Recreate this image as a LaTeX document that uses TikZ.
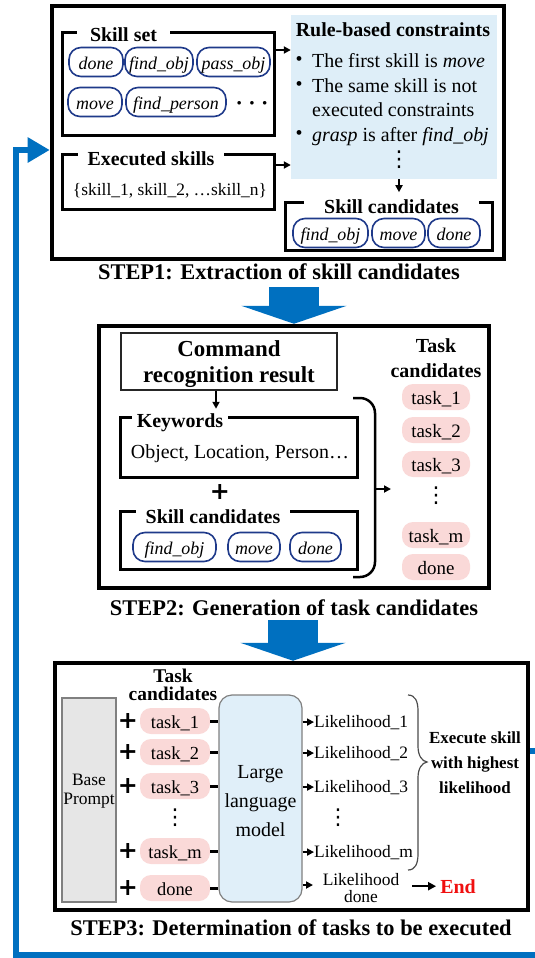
\documentclass[tikz,border=0pt]{standalone}
\usepackage{fontspec}
\setmainfont{Liberation Serif}
\newfontfamily\plusfont{DejaVu Sans}
\usetikzlibrary{arrows.meta}
\definecolor{stepblue}{HTML}{0070C0}
\definecolor{rulefill}{HTML}{DEEEF8}
\definecolor{pillblue}{HTML}{1F3A8A}
\definecolor{pinkfill}{HTML}{FAD9D8}
\definecolor{basefill}{HTML}{E6E6E6}
\definecolor{llmfill}{HTML}{E0EFF9}
\definecolor{endred}{HTML}{F01010}
\newcommand\fsz[2]{\fontsize{#1}{#2}\selectfont}
\begin{document}
\begin{tikzpicture}[x=1bp,y=-1bp,
  outer/.style={draw, line width=4.5bp, inner sep=0},
  brbox/.style={draw, line width=3bp, inner sep=0},
  btitle/.style={fill=white, inner xsep=10bp, inner ysep=0bp, text height=16bp, text depth=5bp, font=\bfseries\fsz{20}{22}},
  pill/.style={draw=pillblue, line width=1.6bp, rounded corners=12bp, inner sep=0, minimum height=29bp, text height=14bp, text depth=0bp, font=\itshape\fsz{18}{20}},
  tpill/.style={fill=pinkfill, rounded corners=11bp, inner sep=0, minimum height=26bp, text height=14.5bp, text depth=0bp},
  txt/.style={inner sep=0},
  arr/.style={-{Triangle[length=7bp,width=7bp]}, line width=1.8bp},
  captext/.style={inner sep=0, font=\bfseries\fsz{22.5}{25}},
  bigarrow/.style={draw=stepblue, line width=50bp, -{Triangle[length=18bp,width=105bp]}},
  loopline/.style={draw=stepblue, line width=6bp, line join=miter, -{Triangle[length=22bp,width=24bp]}},
  plusn/.style={inner sep=0, font=\plusfont\bfseries\fsz{24}{24}},
  dotsn/.style={inner sep=0, font=\plusfont\fsz{22}{22}},
  bulletn/.style={inner sep=0, font=\fsz{20}{20}}]
\fill[white] (0,0) rectangle (535,958);
\clip (0,0) rectangle (535,958);

% ================= STEP 1 =================
\node[outer, minimum width=452bp, minimum height=253bp] (step1) at (278,132.5) {};
\node[fill=rulefill, inner sep=0, minimum width=206bp, minimum height=164bp] (rule) at (394,97) {};
\node[txt, anchor=base, font=\bfseries\fsz{20}{22}] (ruleT) at (393,36) {Rule-based constraints};
\node[bulletn] (b1) at (299,61) {•};
\node[bulletn] (b2) at (299,86) {•};
\node[bulletn] (b3) at (299,135) {•};
\node[txt, anchor=base west, font=\fsz{20}{22}] (r1) at (312,67) {The first skill is \textit{move}};
\node[txt, anchor=base west, font=\fsz{20}{22}] (r2) at (312,92) {The same skill is not};
\node[txt, anchor=base west, font=\fsz{20}{22}] (r3) at (312,116) {executed constraints};
\node[txt, anchor=base west, font=\fsz{20}{22}] (r4) at (312,141) {\textit{grasp} is after \textit{find\_obj}};
\node[dotsn] (rdots) at (399,160) {⋮};

\node[brbox, minimum width=211bp, minimum height=103bp] (skillset) at (168.5,83.5) {};
\node[btitle, anchor=base, inner xsep=13bp] (skillsetT) at (123.5,41) {Skill set};
\node[pill, minimum width=54bp] (k1) at (96,62) {done};
\node[pill, minimum width=68bp] (k2) at (159,62) {find\_obj};
\node[pill, minimum width=73bp] (k3) at (233.5,62) {pass\_obj};
\node[pill, minimum width=54bp] (k4) at (95,102) {move};
\node[pill, minimum width=100bp] (k5) at (176,102) {find\_person};
\node[txt, font=\bfseries\fsz{22}{22}] (kdots) at (252,106) {· · ·};

\node[brbox, minimum width=211bp, minimum height=55bp] (exec) at (168.5,181.5) {};
\node[btitle, anchor=base] (execT) at (151,165) {Executed skills};
\node[txt, anchor=base, font=\fsz{17.5}{20}] (execL) at (170,195) {\{skill\_1, skill\_2, …skill\_n\}};

\coordinate (ya) at (0,50);
\coordinate (yc) at (0,165);
\draw[arr] (skillset.east |- ya) -- (rule.west |- ya);
\draw[arr] (exec.east |- yc) -- (rule.west |- yc);

\node[brbox, minimum width=207bp, minimum height=48bp] (cand1) at (388.5,226) {};
\node[btitle, anchor=base, inner xsep=20bp] (cand1T) at (391.5,213) {Skill candidates};
\draw[arr] ([xshift=5bp]rule.south) -- ++(0,13);
\node[pill, minimum width=75bp] (c1) at (330.5,233) {find\_obj};
\node[pill, minimum width=53bp] (c2) at (398.5,233) {move};
\node[pill, minimum width=52bp] (c3) at (454,233) {done};

\node[captext, anchor=base] (cap1) at (279,279) {STEP1: Extraction of skill candidates};

% ================= STEP 2 =================
\coordinate (a1s) at (294,287);
\node[outer, minimum width=390bp, minimum height=262bp] (step2) at (294,457) {};
\draw[bigarrow] (a1s) -- (a1s |- step2.north);

\node[draw=black!85, line width=1.5bp, inner sep=0, minimum width=216bp, minimum height=57bp] (cmd) at (229,361.5) {};
\node[txt, anchor=base, font=\bfseries\fsz{23}{26}] (cmdA) at (229,356) {Command};
\node[txt, anchor=base, font=\bfseries\fsz{23}{26}] (cmdB) at (229,382) {recognition result};
\draw[arr] ([xshift=-13bp]cmd.south) -- ++(0,18);

\node[brbox, minimum width=237bp, minimum height=60bp] (kw) at (238.5,447) {};
\node[btitle, anchor=base, inner xsep=5bp] (kwT) at (180,427) {Keywords};
\node[txt, anchor=base, font=\fsz{20}{22}] (kwL) at (240,458) {Object, Location, Person…};
\node[plusn] (plus0) at (220,492) {+};

\node[brbox, minimum width=237bp, minimum height=58bp] (sc2) at (238.5,540) {};
\node[btitle, anchor=base] (sc2T) at (213,523) {Skill candidates};
\node[pill, minimum width=83bp] (d1) at (174.5,547) {find\_obj};
\node[pill, minimum width=52bp] (d2) at (254,547) {move};
\node[pill, minimum width=51bp] (d3) at (315.5,547) {done};

\draw[line width=2.5bp, rounded corners=15bp] (353,398) -- (375,398) -- (375,577) -- (353,577);
\coordinate (brk) at (375,489);
\coordinate (brkend) at (391,489);
\draw[arr] (brk) -- (brkend);

\node[txt, anchor=base, font=\bfseries\fsz{20}{22}] (tcA) at (436,352) {Task};
\node[txt, anchor=base, font=\bfseries\fsz{20}{22}] (tcB) at (436,377) {candidates};
\node[tpill, minimum width=68bp, font=\fsz{19}{20}] (e1) at (436,397) {task\_1};
\node[tpill, minimum width=68bp, font=\fsz{19}{20}] (e2) at (436,430) {task\_2};
\node[tpill, minimum width=68bp, font=\fsz{19}{20}] (e3) at (436,464) {task\_3};
\node[dotsn] (edots) at (436,496) {⋮};
\node[tpill, minimum width=68bp, font=\fsz{19}{20}] (em) at (436,535) {task\_m};
\node[tpill, minimum width=68bp, font=\fsz{19}{20}] (ed) at (436,567) {done};

\node[captext, anchor=base] (cap2) at (294,615) {STEP2: Generation of task candidates};

% ================= STEP 3 =================
\coordinate (a2s) at (293,620);
\node[outer, minimum width=473bp, minimum height=247bp] (step3) at (291.5,786.5) {};
\draw[bigarrow] (a2s) -- (a2s |- step3.north);

\node[draw=gray, line width=1.2bp, fill=basefill, inner sep=0, minimum width=54bp, minimum height=204bp] (base) at (89,800) {};
\node[txt, anchor=base, font=\fsz{17.5}{19}] (baseA) at (89,785) {Base};
\node[txt, anchor=base, font=\fsz{17.5}{19}] (baseB) at (89,804) {Prompt};

\node[txt, anchor=base, font=\bfseries\fsz{19.5}{20}] (tdA) at (173,682) {Task};
\node[txt, anchor=base, font=\bfseries\fsz{19.5}{20}] (tdB) at (173,700) {candidates};

\node[draw=gray, line width=1.2bp, fill=llmfill, rounded corners=13bp, inner sep=0, minimum width=83bp, minimum height=207bp] (llm) at (260.5,798.5) {};
\node[txt, anchor=base, font=\fsz{20}{22}] (llmA) at (260.5,778) {Large};
\node[txt, anchor=base, font=\fsz{20}{22}] (llmB) at (260.5,807) {language};
\node[txt, anchor=base, font=\fsz{20}{22}] (llmC) at (260.5,836) {model};

\foreach \n/\yy/\t in {s1/721/task\_1, s2/752/task\_2, s3/786/task\_3, sm/851/task\_m, sd/888/done}{
  \node[tpill, minimum width=70bp, font=\fsz{18.5}{20}] (\n) at (175,\yy) {\t};
  \node[plusn] (plus-\n) at (128,\yy) {+};
  \draw[line width=3bp] (\n.east) -- (llm.west |- \n.east);
}
\node[dotsn] (sdots) at (175,818) {⋮};

\node[txt, anchor=base west, font=\fsz{17.5}{19}] (l1) at (314,727) {Likelihood\_1};
\node[txt, anchor=base west, font=\fsz{17.5}{19}] (l2) at (314,758) {Likelihood\_2};
\node[txt, anchor=base west, font=\fsz{17.5}{19}] (l3) at (314,792) {Likelihood\_3};
\node[txt, anchor=base west, font=\fsz{17.5}{19}] (lm) at (314,857) {Likelihood\_m};
\node[dotsn] (ldots) at (338,818) {⋮};
\foreach \n in {l1,l2,l3,lm}{
  \draw[arr] (llm.east |- \n.west) -- (\n.west);
}
\node[txt, anchor=base, font=\fsz{17.5}{19}] (ldA) at (361,885) {Likelihood};
\node[txt, anchor=base, font=\fsz{17.5}{19}] (ldB) at (361,902) {done};
\coordinate (ldin) at (313,885);
\draw[arr] (llm.east |- ldin) -- (ldin);

\draw[gray!60!black, line width=1.2bp] (408,695) .. controls (415,695) and (418,701) .. (418,711) -- (418,746) .. controls (418,756) and (422,761) .. (427,762) .. controls (422,763) and (418,768) .. (418,778) -- (418,854) .. controls (418,864) and (415,870) .. (408,870);

\node[txt, anchor=base, font=\bfseries\fsz{17}{19}] (exA) at (475,743) {Execute skill};
\node[txt, anchor=base, font=\bfseries\fsz{17}{19}] (exB) at (475,768) {with highest};
\node[txt, anchor=base, font=\bfseries\fsz{17}{19}] (exC) at (475,793) {likelihood};

\node[txt, anchor=base, text=endred, font=\bfseries\fsz{20}{22}] (endn) at (458,893) {End};
\draw[-{Triangle[length=8bp,width=8bp]}, line width=2.2bp] ([xshift=-28bp]endn.west) -- ([xshift=-4bp]endn.west);

\node[captext, anchor=base] (cap3) at (291,935) {STEP3: Determination of tasks to be executed};

% ================= feedback loop =================
\coordinate (yl) at (0,751);
\coordinate (yb) at (0,150);
\draw[loopline] (step3.east |- yl) -- (548,751) -- (548,955) -- (16,955) -- (16,150) -- (step1.west |- yb);
\end{tikzpicture}
\end{document}
